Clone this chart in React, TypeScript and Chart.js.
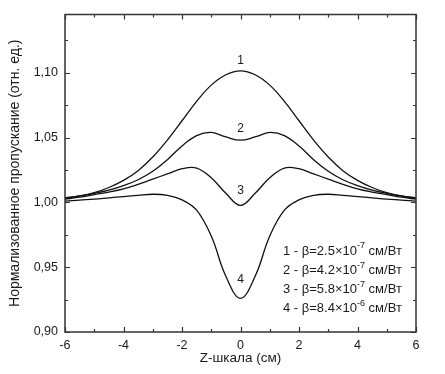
import React, { useEffect, useRef } from "react";
import { Chart, registerables } from "chart.js";

Chart.register(...registerables);

const zValues = [-6, -5.5, -5, -4.5, -4, -3.5, -3, -2.5, -2, -1.5, -1, -0.5, 0, 0.5, 1, 1.5, 2, 2.5, 3, 3.5, 4, 4.5, 5, 5.5, 6];

const curve1 = [1.0035, 1.005, 1.0075, 1.0115, 1.017, 1.0245, 1.035, 1.048, 1.063, 1.078, 1.0905, 1.0985, 1.1015, 1.0985, 1.0905, 1.078, 1.063, 1.048, 1.035, 1.0245, 1.017, 1.0115, 1.0075, 1.005, 1.0035];
const curve2 = [1.0033, 1.005, 1.007, 1.0095, 1.013, 1.0175, 1.024, 1.033, 1.0435, 1.0515, 1.054, 1.0505, 1.048, 1.0505, 1.054, 1.0515, 1.0435, 1.033, 1.024, 1.0175, 1.013, 1.0095, 1.007, 1.005, 1.0033];
const curve3 = [1.0025, 1.004, 1.006, 1.008, 1.0105, 1.014, 1.018, 1.022, 1.026, 1.0265, 1.019, 1.007, 0.9977, 1.007, 1.019, 1.0265, 1.026, 1.022, 1.018, 1.014, 1.0105, 1.008, 1.006, 1.004, 1.0025];
const curve4 = [1.001, 1.0018, 1.0025, 1.0035, 1.0045, 1.0055, 1.0063, 1.0055, 1.002, 0.994, 0.974, 0.943, 0.926, 0.943, 0.974, 0.994, 1.002, 1.0055, 1.0063, 1.0055, 1.0045, 1.0035, 1.0025, 1.0018, 1.001];

const seriesList = [curve1, curve2, curve3, curve4];
const curveNames = ["1", "2", "3", "4"];
const curveLabelY = [1.109, 1.057, 1.009, 0.94];

const xTicks = [-6, -4, -2, 0, 2, 4, 6];
const xMinorTicks = [-5, -3, -1, 1, 3, 5];
const yTicks = [0.9, 0.95, 1.0, 1.05, 1.1];
const yMinorTicks = [0.925, 0.975, 1.025, 1.075, 1.125];

const legendMain = ["1 - β=2.5×10", "2 - β=4.2×10", "3 - β=5.8×10", "4 - β=8.4×10"];
const legendExp = ["-7", "-7", "-7", "-6"];
const legendUnit = " см/Вт";

const FONT = "'Liberation Sans', Arial, sans-serif";
const TEXT = "#1a1a1a";

const framePlugin = {
  id: "frame",
  afterDatasetsDraw(chart: any) {
    const { ctx, chartArea: a, scales } = chart;
    const xs = scales.x;
    const ys = scales.y;
    ctx.save();
    ctx.strokeStyle = "#333";
    ctx.lineWidth = 1.5;
    ctx.strokeRect(a.left, a.top, a.right - a.left, a.bottom - a.top);
    ctx.lineWidth = 1.2;
    const drawX = (v: number, len: number) => {
      const px = Math.round(xs.getPixelForValue(v)) + 0.5;
      ctx.beginPath();
      ctx.moveTo(px, a.bottom);
      ctx.lineTo(px, a.bottom - len);
      ctx.moveTo(px, a.top);
      ctx.lineTo(px, a.top + len);
      ctx.stroke();
    };
    const drawY = (v: number, len: number) => {
      const py = Math.round(ys.getPixelForValue(v)) + 0.5;
      ctx.beginPath();
      ctx.moveTo(a.left, py);
      ctx.lineTo(a.left + len, py);
      ctx.moveTo(a.right, py);
      ctx.lineTo(a.right - len, py);
      ctx.stroke();
    };
    xTicks.forEach((v) => drawX(v, 5));
    xMinorTicks.forEach((v) => drawX(v, 3));
    yTicks.forEach((v) => drawY(v, 5));
    yMinorTicks.forEach((v) => drawY(v, 3));

    // curve number labels
    ctx.fillStyle = TEXT;
    ctx.font = `12px ${FONT}`;
    ctx.textAlign = "center";
    ctx.textBaseline = "middle";
    curveNames.forEach((n, i) => {
      ctx.fillText(n, xs.getPixelForValue(0), ys.getPixelForValue(curveLabelY[i]));
    });

    // legend text
    ctx.textAlign = "left";
    ctx.textBaseline = "middle";
    const lx = a.right - 133;
    const ly0 = a.bottom - 81;
    legendMain.forEach((t, i) => {
      const y = ly0 + i * 19.3;
      let x = lx;
      ctx.font = `13px ${FONT}`;
      ctx.fillText(t, x, y);
      x += ctx.measureText(t).width;
      ctx.font = `9px ${FONT}`;
      ctx.fillText(legendExp[i], x, y - 5);
      x += ctx.measureText(legendExp[i]).width;
      ctx.font = `13px ${FONT}`;
      ctx.fillText(legendUnit, x, y);
    });
    ctx.restore();
  },
};

export default function App() {
  const ref = useRef<HTMLCanvasElement>(null);
  useEffect(() => {
    if (!ref.current) return;
    const chart = new Chart(ref.current, {
      type: "line",
      data: {
        datasets: seriesList.map((s, i) => ({
          label: curveNames[i],
          data: zValues.map((z, j) => ({ x: z, y: s[j] })),
          borderColor: "#111",
          borderWidth: 1.3,
          pointRadius: 0,
          tension: 0.4,
          fill: false,
        })),
      },
      options: {
        responsive: false,
        animation: false,
        devicePixelRatio: 1,
        layout: { padding: { top: 14, right: 29, left: 0, bottom: 0 } },
        plugins: { legend: { display: false }, tooltip: { enabled: false } },
        scales: {
          x: {
            type: "linear",
            min: -6,
            max: 6,
            afterBuildTicks: (s: any) => {
              s.ticks = xTicks.map((v) => ({ value: v }));
            },
            afterFit: (s: any) => {
              s.height = 42;
            },
            grid: { display: false, drawTicks: false },
            border: { display: false },
            ticks: {
              padding: 6,
              color: TEXT,
              font: { family: FONT, size: 12.5 },
              maxRotation: 0,
              callback: (v: any) => String(v),
            },
            title: {
              display: true,
              text: "Z-шкала (см)",
              color: TEXT,
              font: { family: FONT, size: 13.5 },
              padding: { top: 2, bottom: 8 },
            },
          },
          y: {
            type: "linear",
            min: 0.9,
            max: 1.145,
            afterBuildTicks: (s: any) => {
              s.ticks = yTicks.map((v) => ({ value: v }));
            },
            afterFit: (s: any) => {
              s.width = 65;
            },
            grid: { display: false, drawTicks: false },
            border: { display: false },
            ticks: {
              padding: 7,
              color: TEXT,
              font: { family: FONT, size: 12.5 },
              callback: (v: any) => Number(v).toFixed(2).replace(".", ","),
            },
            title: {
              display: true,
              text: "Нормализованное пропускание (отн. ед.)",
              color: TEXT,
              font: { family: FONT, size: 14 },
              padding: { top: 7, bottom: 2 },
            },
          },
        },
      } as any,
      plugins: [framePlugin],
    });
    return () => chart.destroy();
  }, []);
  return (
    <div style={{ position: "absolute", left: 0, top: 0, width: 445, height: 374, background: "#fff" }}>
      <canvas ref={ref} width={445} height={374} style={{ display: "block" }} />
    </div>
  );
}
